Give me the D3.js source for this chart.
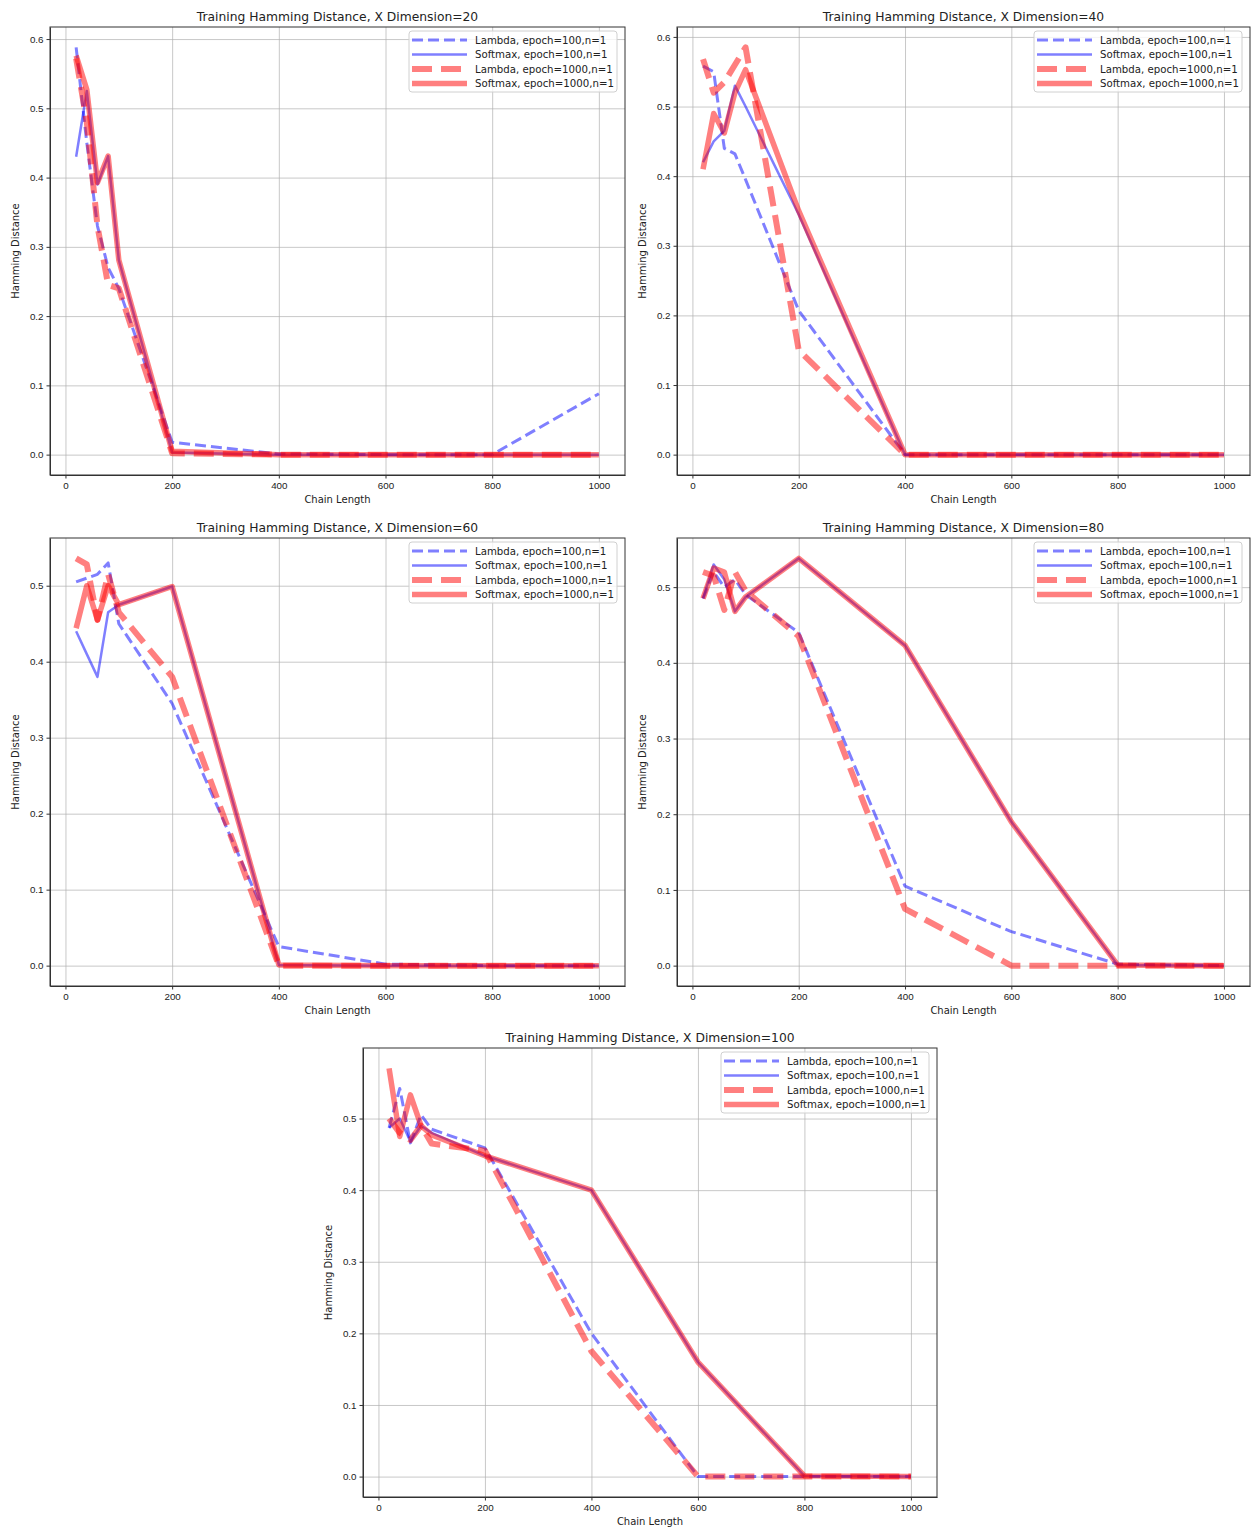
<!DOCTYPE html>
<html>
<head>
<meta charset="utf-8">
<script src="https://cdn.jsdelivr.net/npm/d3@7"></script>
<style>
  body { margin: 0; background: #fff; }
  svg { font-family: "DejaVu Sans", sans-serif; }
  .axis text { fill: #222; font-size: 9.8px; }
  .axis path, .axis line { stroke: #333; }
  .grid line { stroke: #b0b0b0; stroke-opacity: 0.7; }
  .grid path { display: none; }
</style>
</head>
<body>
<script>
"use strict"

// x values shared by every run
const chainLength = [20, 40, 60, 80, 100, 200, 400, 600, 800, 1000];
const dimensions = [20, 40, 60, 80, 100];
const xTicks = [0, 200, 400, 600, 800, 1000];
const yTicks = [
  [0, 0.1, 0.2, 0.3, 0.4, 0.5, 0.6],
  [0, 0.1, 0.2, 0.3, 0.4, 0.5, 0.6],
  [0, 0.1, 0.2, 0.3, 0.4, 0.5],
  [0, 0.1, 0.2, 0.3, 0.4, 0.5],
  [0, 0.1, 0.2, 0.3, 0.4, 0.5]
];
const seriesNames = ["Lambda, epoch=100,n=1", "Softmax, epoch=100,n=1",
                     "Lambda, epoch=1000,n=1", "Softmax, epoch=1000,n=1"];

// one row per dimension (20, 40, 60, 80, 100)
const lambda100 = [
  [0.588, 0.45, 0.33, 0.27, 0.24, 0.018, 0.001, 0.0, 0.0, 0.088],
  [0.558, 0.55, 0.44, 0.432, 0.395, 0.207, 0.0, 0.0, 0.0, 0.0],
  [0.505, 0.51, 0.515, 0.53, 0.45, 0.345, 0.025, 0.002, 0.0, 0.0],
  [0.485, 0.52, 0.50, 0.51, 0.49, 0.44, 0.105, 0.045, 0.002, 0.0],
  [0.487, 0.542, 0.466, 0.505, 0.485, 0.459, 0.20, 0.0, 0.0, 0.0]
];
const softmax100 = [
  [0.43, 0.525, 0.39, 0.431, 0.281, 0.003, 0.0, 0.0, 0.0, 0.0],
  [0.42, 0.45, 0.465, 0.53, 0.50, 0.345, 0.0, 0.0, 0.0, 0.0],
  [0.44, 0.41, 0.38, 0.465, 0.475, 0.499, 0.001, 0.0, 0.0, 0.0],
  [0.485, 0.53, 0.51, 0.468, 0.487, 0.538, 0.423, 0.19, 0.001, 0.0],
  [0.487, 0.50, 0.468, 0.49, 0.48, 0.448, 0.40, 0.16, 0.001, 0.0]
];
const lambda1000 = [
  [0.572, 0.48, 0.33, 0.245, 0.24, 0.002, 0.0, 0.0, 0.0, 0.0],
  [0.568, 0.52, 0.535, 0.56, 0.585, 0.15, 0.0, 0.0, 0.0, 0.0],
  [0.536, 0.528, 0.455, 0.515, 0.465, 0.38, 0.0, 0.0, 0.0, 0.0],
  [0.52, 0.515, 0.47, 0.52, 0.495, 0.435, 0.075, 0.0, 0.0, 0.0],
  [0.50, 0.48, 0.47, 0.49, 0.465, 0.455, 0.175, 0.0, 0.0, 0.0]
];
const softmax1000 = [
  [0.576, 0.527, 0.393, 0.431, 0.281, 0.005, 0.0, 0.0, 0.0, 0.0],
  [0.41, 0.49, 0.462, 0.52, 0.553, 0.35, 0.0, 0.0, 0.0, 0.0],
  [0.444, 0.50, 0.455, 0.50, 0.475, 0.499, 0.001, 0.0, 0.0, 0.0],
  [0.485, 0.525, 0.52, 0.468, 0.487, 0.538, 0.423, 0.19, 0.001, 0.0],
  [0.57, 0.475, 0.533, 0.49, 0.477, 0.448, 0.40, 0.16, 0.001, 0.0]
];

// line styles in plotting order
const styles = [
  {color: "blue", width: 3, dash: "11,5"},
  {color: "blue", width: 2.5, dash: null},
  {color: "red", width: 6, dash: "20,9"},
  {color: "red", width: 5.5, dash: null}
];

// axes boxes on the page
const boxes = [
  {left: 50, right: 625, top: 27, bottom: 475},
  {left: 677, right: 1250, top: 27, bottom: 475},
  {left: 50, right: 625, top: 538, bottom: 986},
  {left: 677, right: 1250, top: 538, bottom: 986},
  {left: 363, right: 937, top: 1048, bottom: 1497}
];

const svg = d3.select("body").append("svg")
  .attr("width", 1253)
  .attr("height", 1528);

class Panel {
  constructor(i) {
    this.box = boxes[i];
    this.width = this.box.right - this.box.left;
    this.height = this.box.bottom - this.box.top;
    this.series = [lambda100[i], softmax100[i], lambda1000[i], softmax1000[i]];
    this.g = svg.append("g")
      .attr("transform", "translate(" + this.box.left + "," + this.box.top + ")");
    this.makeScales(i);
    this.drawAxes(i);
    this.drawLines();
    this.drawLegend();
    this.drawLabels(dimensions[i]);
  }

  // matplotlib style 5% margins
  makeScales() {
    var xmin = d3.min(chainLength), xmax = d3.max(chainLength),
        ymin = d3.min(this.series, function(s) { return d3.min(s); }),
        ymax = d3.max(this.series, function(s) { return d3.max(s); }),
        xpad = (xmax - xmin) * 0.05,
        ypad = (ymax - ymin) * 0.05;
    this.x = d3.scaleLinear().domain([xmin - xpad, xmax + xpad]).range([0, this.width]);
    this.y = d3.scaleLinear().domain([ymin - ypad, ymax + ypad]).range([this.height, 0]);
  }

  drawAxes(i) {
    // grid first
    this.g.append("g")
      .attr("class", "grid")
      .attr("transform", "translate(0," + this.height + ")")
      .call(d3.axisBottom(this.x).tickValues(xTicks).tickSize(-this.height).tickFormat(""));
    this.g.append("g")
      .attr("class", "grid")
      .call(d3.axisLeft(this.y).tickValues(yTicks[i]).tickSize(-this.width).tickFormat(""));
    this.g.append("g")
      .attr("class", "axis")
      .attr("transform", "translate(0," + this.height + ")")
      .call(d3.axisBottom(this.x).tickValues(xTicks).tickSize(3.5).tickPadding(4).tickSizeOuter(0).tickFormat(d3.format("d")));
    this.g.append("g")
      .attr("class", "axis")
      .call(d3.axisLeft(this.y).tickValues(yTicks[i]).tickSize(3.5).tickPadding(3).tickSizeOuter(0).tickFormat(d3.format(".1f")));
    // frame
    this.g.append("rect")
      .attr("width", this.width)
      .attr("height", this.height)
      .attr("fill", "none")
      .attr("stroke", "#333")
      .attr("stroke-width", 1);
  }

  drawLines() {
    var x = this.x, y = this.y;
    var line = d3.line()
      .x(function(d, j) { return x(chainLength[j]); })
      .y(function(d) { return y(d); });
    var clip = "clip" + this.box.left + "_" + this.box.top;
    this.g.append("clipPath").attr("id", clip)
      .append("rect").attr("width", this.width).attr("height", this.height);
    this.g.append("g")
      .attr("clip-path", "url(#" + clip + ")")
      .selectAll(".line")
      .data(this.series)
        .enter().append("path")
          .attr("class", "line")
          .attr("d", function(d) { return line(d); })
          .attr("fill", "none")
          .attr("stroke", function(d, j) { return styles[j].color; })
          .attr("stroke-opacity", 0.5)
          .attr("stroke-width", function(d, j) { return styles[j].width; })
          .attr("stroke-dasharray", function(d, j) { return styles[j].dash; })
          .attr("stroke-linejoin", "round");
  }

  drawLegend() {
    var lw = 208, lh = 61,
        legend = this.g.append("g")
          .attr("transform", "translate(" + (this.width - lw - 8) + ",4)");
    legend.append("rect")
      .attr("width", lw)
      .attr("height", lh)
      .attr("rx", 3)
      .attr("fill", "#fff")
      .attr("fill-opacity", 0.8)
      .attr("stroke", "#d0d0d0");
    var items = legend.selectAll(".legend-item")
      .data(seriesNames)
        .enter().append("g")
          .attr("class", "legend-item")
          .attr("transform", function(d, j) { return "translate(0," + (9 + j * 14.5) + ")"; });
    items.append("line")
      .attr("x1", 3)
      .attr("x2", 58)
      .attr("stroke", function(d, j) { return styles[j].color; })
      .attr("stroke-opacity", 0.5)
      .attr("stroke-width", function(d, j) { return styles[j].width; })
      .attr("stroke-dasharray", function(d, j) { return styles[j].dash; });
    items.append("text")
      .attr("x", 66)
      .attr("y", 3.5)
      .attr("font-size", "10.2px")
      .attr("fill", "#222")
      .text(function(d) { return d; });
  }

  drawLabels(dim) {
    this.g.append("text")
      .attr("x", this.width / 2)
      .attr("y", -6)
      .attr("text-anchor", "middle")
      .attr("font-size", "12.3px")
      .attr("fill", "#222")
      .text("Training Hamming Distance, X Dimension=" + dim);
    this.g.append("text")
      .attr("x", this.width / 2)
      .attr("y", this.height + 28)
      .attr("text-anchor", "middle")
      .attr("font-size", "10px")
      .attr("fill", "#222")
      .text("Chain Length");
    this.g.append("text")
      .attr("transform", "translate(-31," + (this.height / 2) + ") rotate(-90)")
      .attr("text-anchor", "middle")
      .attr("font-size", "10px")
      .attr("fill", "#222")
      .text("Hamming Distance");
  }
}

dimensions.forEach(function(d, i) { new Panel(i); });
</script>
</body>
</html>
